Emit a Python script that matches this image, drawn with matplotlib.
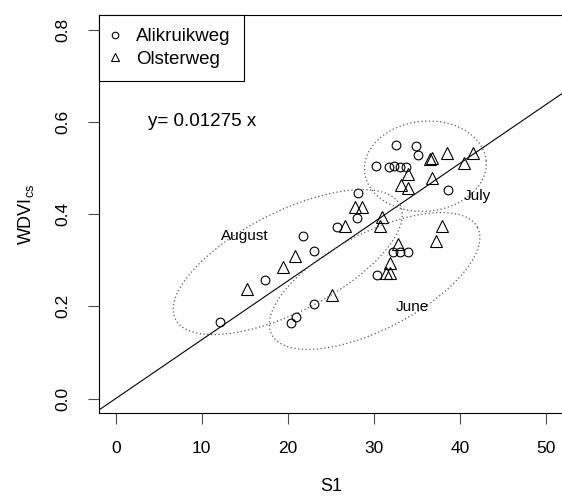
import numpy as np
import matplotlib
matplotlib.use('Agg')
import matplotlib.pyplot as plt

plt.rcParams['font.family'] = ['Liberation Sans', 'DejaVu Sans']

# ------------------------
# Data
# ------------------------
ali_s1 = [12.1, 17.3, 21.8, 23.0, 25.7, 28.2, 28.0, 23.1, 20.4, 21.0,
          32.6, 34.9, 35.1, 30.3, 31.8, 32.4, 33.0, 33.8, 38.6,
          32.2, 33.0, 34.0, 30.4]
ali_wdvi = [0.167, 0.258, 0.353, 0.319, 0.373, 0.445, 0.392, 0.205, 0.164, 0.176,
            0.551, 0.548, 0.528, 0.504, 0.503, 0.505, 0.503, 0.503, 0.452,
            0.318, 0.317, 0.318, 0.268]

ols_s1 = [15.3, 19.5, 20.9, 26.6, 27.8, 28.6, 30.9, 30.7, 25.1,
          36.5, 36.8, 38.5, 41.5, 40.5, 34.0, 36.8, 33.2, 34.0,
          37.9, 37.2, 32.8, 31.9, 31.4, 31.9]
ols_wdvi = [0.237, 0.285, 0.310, 0.374, 0.416, 0.415, 0.393, 0.374, 0.225,
            0.519, 0.522, 0.532, 0.532, 0.510, 0.487, 0.478, 0.463, 0.456,
            0.375, 0.342, 0.335, 0.293, 0.272, 0.272]

slope = 0.01275

months = ['August', 'June', 'July']
month_label_pos = [(15.0, 0.352), (34.5, 0.198), (42.0, 0.440)]
# ellipse centre (data), semi-axes (pixels), rotation (deg)
ell_centre = [(20.0, 0.296), (30.1, 0.255), (36.0, 0.504)]
ell_axes = [(126, 50), (116, 48), (61, 45)]
ell_angle = [27.0, 27.5, 5.0]

# ------------------------
# Figure
# ------------------------
fig = plt.figure(figsize=(5.62, 5.0), dpi=100)
ax = fig.add_axes([98.5 / 562, 86.7 / 500, 464.5 / 562, 398.3 / 500])
ax.set_xlim(-2, 52)
ax.set_ylim(-0.032, 0.832)

ax.axline((0, 0), slope=slope, color='black', lw=0.8)

ax.plot(ali_s1, ali_wdvi, linestyle='none', marker='o', ms=6.3,
        mfc='none', mec='black', mew=0.8, label='Alikruikweg')
ax.plot(ols_s1, ols_wdvi, linestyle='none', marker='^', ms=8,
        mfc='none', mec='black', mew=0.8, label='Olsterweg')

# dotted ellipses drawn in pixel space, then mapped back to data
t = np.linspace(0, 2 * np.pi, 300)
for (cx, cy), (a, b), ang in zip(ell_centre, ell_axes, ell_angle):
    px0, py0 = ax.transData.transform((cx, cy))
    th = np.deg2rad(ang)
    u = a * np.cos(t)
    v = b * np.sin(t)
    px = px0 + u * np.cos(th) - v * np.sin(th)
    py = py0 + u * np.sin(th) + v * np.cos(th)
    pts = ax.transData.inverted().transform(np.column_stack([px, py]))
    ax.plot(pts[:, 0], pts[:, 1], color='0.35', lw=0.9,
            linestyle=(0, (1, 2)))

for name, (x, y) in zip(months, month_label_pos):
    ax.text(x, y, name, fontsize=11, ha='center', va='center')

ax.text(10.0, 0.60, 'y= 0.01275 x', fontsize=13.5, ha='center', va='center')

ax.set_xticks([0, 10, 20, 30, 40, 50])
ax.set_yticks([0.0, 0.2, 0.4, 0.6, 0.8])
ax.set_yticklabels(['0.0', '0.2', '0.4', '0.6', '0.8'], rotation=90,
                   va='center')
ax.tick_params(direction='out', length=8, width=0.8, labelsize=12.5,
               pad=12, color='0.3')
ax.spines['right'].set_visible(False)

ax.set_xlabel('S1', fontsize=13, labelpad=16)
ax.set_ylabel(r'WDVI$_\mathregular{cs}$', fontsize=13, labelpad=14)

leg = ax.legend(loc='upper left', borderaxespad=0, fancybox=False,
                edgecolor='black', framealpha=1, fontsize=13.5,
                markerscale=0.75, handlelength=0.4, handletextpad=0.9,
                borderpad=0.7, labelspacing=0.3)
leg.get_frame().set_linewidth(0.8)

fig.savefig('out.png', dpi=100)
